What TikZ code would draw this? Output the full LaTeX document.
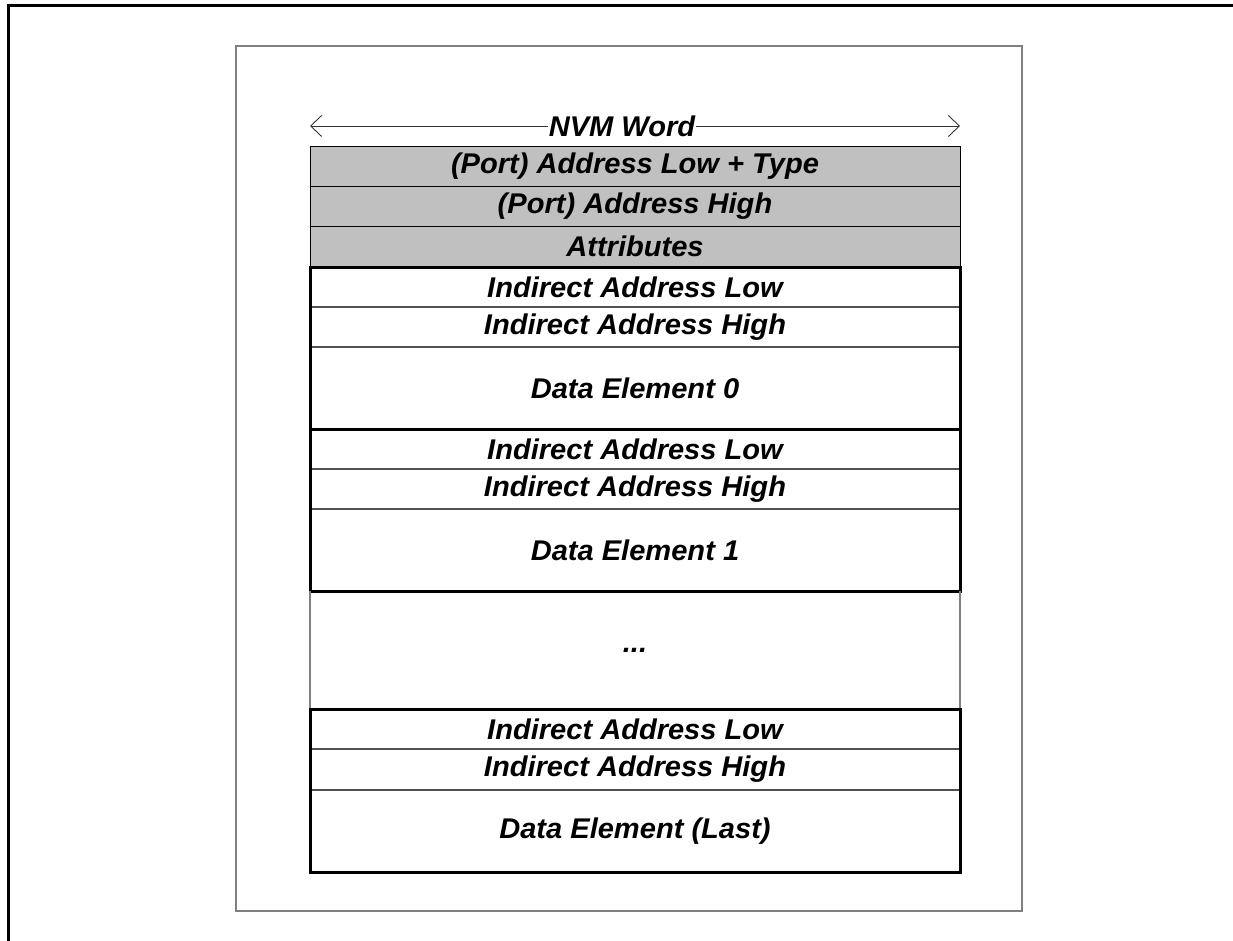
\documentclass[tikz,border=0pt]{standalone}
\usepackage{fontspec}
\setmainfont{Liberation Sans}
\usepackage{graphicx}
\usetikzlibrary{arrows.meta}
\definecolor{cellgray}{HTML}{C0C0C0}
\definecolor{sepgray}{HTML}{505050}
\definecolor{framegray}{HTML}{808080}
\newcommand{\lbl}[1]{\scalebox{1.02}[1]{#1}}
\tikzset{
  lblfont/.style={font=\fontsize{28.5}{30}\selectfont\bfseries\itshape},
  cell/.style={inner sep=0pt, outer sep=0pt, minimum width=650pt, anchor=north west, lblfont},
  graycell/.style={cell, fill=cellgray, draw=black, line width=0.9pt},
  whitecell/.style={cell, draw=sepgray, line width=1.3pt},
  groupbox/.style={draw=black, line width=3pt},
  widtharrow/.style={draw=black!80, line width=0.9pt,
    {Straight Barb[length=11pt,width=21pt,line width=0.9pt]}-{Straight Barb[length=11pt,width=21pt,line width=0.9pt]}},
}
\begin{document}
\begin{tikzpicture}[x=1pt,y=-1pt]
\useasboundingbox (0,0) rectangle (1233,941);
% outer frame
\draw[line width=3pt] (1233,6) -- (8,6) -- (8,941);
% inner frame
\draw[framegray, line width=1.4pt] (236,46) rectangle (1022,911);
% width arrow
\coordinate (al) at (310,126);
\coordinate (ar) at (960,126);
\draw[widtharrow] (al) -- (ar);
\node[fill=white, inner sep=1pt, lblfont] (nvm) at (622,126) {\lbl{NVM Word}};
% header rows
\node[graycell, minimum height=40pt] (h1) at (310,146) {\lbl{(Port) Address Low + Type}};
\node[graycell, minimum height=40pt] (h2) at (310,186) {\lbl{(Port) Address High}};
\node[graycell, minimum height=41pt] (h3) at (310,226) {\lbl{Attributes}};
% group 1
\node[whitecell, minimum height=40pt] (a1) at (310,267) {\lbl{Indirect Address Low}};
\node[whitecell, minimum height=40pt] (a2) at (310,307) {\lbl{Indirect Address High}};
\node[whitecell, minimum height=82pt] (a3) at (310,347) {\lbl{Data Element 0}};
\draw[groupbox] (a1.north west) rectangle (a3.south east);
% group 2
\node[whitecell, minimum height=40pt] (b1) at (310,429) {\lbl{Indirect Address Low}};
\node[whitecell, minimum height=40pt] (b2) at (310,469) {\lbl{Indirect Address High}};
\node[whitecell, minimum height=82pt] (b3) at (310,509) {\lbl{Data Element 1}};
\draw[groupbox] (b1.north west) rectangle (b3.south east);
% ellipsis region
\node[cell, minimum height=118pt] (dots) at (310,591) {\lbl{...}};
\draw[framegray, line width=1.3pt] (dots.north west) -- (dots.south west);
\draw[framegray, line width=1.3pt] (dots.north east) -- (dots.south east);
% group last
\node[whitecell, minimum height=40pt] (c1) at (310,709) {\lbl{Indirect Address Low}};
\node[whitecell, minimum height=41pt] (c2) at (310,749) {\lbl{Indirect Address High}};
\node[whitecell, minimum height=82pt] (c3) at (310,790) {\lbl{Data Element (Last)}};
\draw[groupbox] (c1.north west) rectangle (c3.south east);
\end{tikzpicture}
\end{document}
